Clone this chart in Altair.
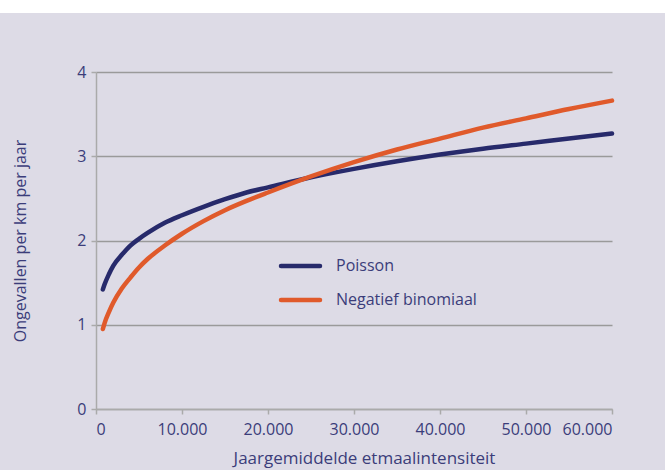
import altair as alt
import pandas as pd

# Data
x_vals = [800, 1000, 1500, 2000, 3000, 4000, 5000, 6000, 8000, 10000, 12500,
          15000, 17500, 20000, 25000, 30000, 35000, 40000, 45000, 50000,
          55000, 60000]
poisson = [1.42, 1.48, 1.60, 1.70, 1.83, 1.94, 2.02, 2.09, 2.21, 2.30, 2.40,
           2.49, 2.57, 2.63, 2.75, 2.85, 2.94, 3.02, 3.09, 3.15, 3.21, 3.27]
negbin = [0.95, 1.02, 1.15, 1.26, 1.43, 1.56, 1.68, 1.78, 1.94, 2.08, 2.23,
          2.36, 2.47, 2.57, 2.76, 2.93, 3.08, 3.21, 3.34, 3.45, 3.56, 3.66]
series_names = ["Poisson", "Negatief binomiaal"]
series_colors = ["#272a6b", "#e05a2b"]
x_ticks = [0, 10000, 20000, 30000, 40000, 50000, 60000]
y_ticks = [0, 1, 2, 3, 4]

FONT = "Open Sans"
TXT = "#3b3d7a"
BG = "#dddbe6"

rows = []
for name, vals in zip(series_names, [poisson, negbin]):
    for x, y in zip(x_vals, vals):
        rows.append({"x": x, "y": y, "serie": name})
df = pd.DataFrame(rows)

color_scale = alt.Scale(domain=series_names, range=series_colors)

W, H = 516, 337

lines = alt.Chart(df).mark_line(strokeWidth=4.5, interpolate="monotone", strokeCap="round").encode(
    x=alt.X("x:Q", scale=alt.Scale(domain=[0, 60000], nice=False),
            axis=alt.Axis(values=x_ticks, title="Jaargemiddelde etmaalintensiteit",
                          labelExpr="replace(format(datum.value, ',d'), ',', '.')",
                          grid=False, tickSize=5, labelPadding=7,
                          titleX=268, titleY=54, titleBaseline="alphabetic",
                          titleFontSize=17)),
    y=alt.Y("y:Q", scale=alt.Scale(domain=[0, 4], nice=False),
            axis=alt.Axis(values=y_ticks, title="Ongevallen per km per jaar",
                          grid=True, tickSize=5, labelPadding=5,
                          titleX=-76, titleY=H / 2, titleAngle=-90,
                          titleAlign="center", titleBaseline="middle")),
    color=alt.Color("serie:N", scale=color_scale, legend=None),
    detail="serie:N",
)

# top white strip (page decoration)
strip = alt.Chart(pd.DataFrame({"a": [0]})).mark_rect(color="white").encode(
    x=alt.value(-96), x2=alt.value(665 - 96), y=alt.value(-72), y2=alt.value(-59)
)

leg_df = pd.DataFrame({"serie": series_names, "row": [0, 1]})
leg_y = alt.Y("row:Q", scale=alt.Scale(domain=[0, 1], range=[194, 228]), axis=None)
leg_lines = alt.Chart(leg_df).mark_rule(strokeWidth=4.5, strokeCap="round").encode(
    x=alt.value(185), x2=alt.value(224),
    y=leg_y,
    color=alt.Color("serie:N", scale=color_scale, legend=None),
)
leg_text = alt.Chart(leg_df).mark_text(align="left", baseline="middle", font=FONT,
                                       fontSize=16, color=TXT).encode(
    x=alt.value(240),
    y=leg_y,
    text="serie:N",
)

chart = alt.layer(strip, lines, leg_lines, leg_text).resolve_scale(y="independent").properties(
    width=W, height=H,
    background=BG,
    padding={"left": 96, "top": 72, "right": 53, "bottom": 61},
    autosize=alt.AutoSizeParams(type="none"),
).configure_view(stroke=None).configure_axis(
    labelFont=FONT, titleFont=FONT, labelColor=TXT, titleColor=TXT,
    labelFontSize=16, titleFontSize=16, titleFontWeight="normal",
    domainColor="#aaaaaa", tickColor="#aaaaaa", gridColor="#9a9a9a",
    domainWidth=1.5, tickWidth=1.5, gridWidth=1.5,
)

chart.save("out.html", embed_options={"renderer": "svg", "actions": False})
